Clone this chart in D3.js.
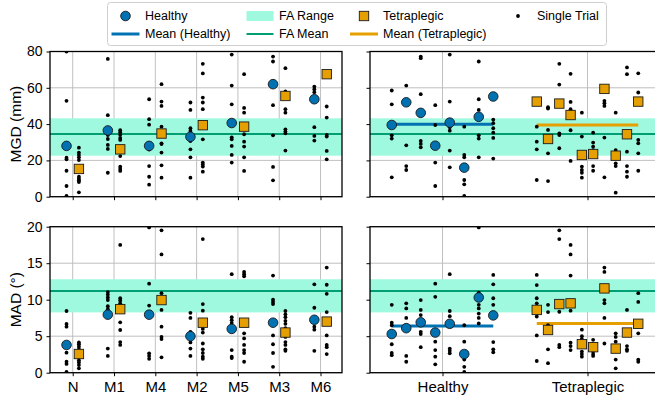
<!DOCTYPE html>
<html>
<head>
<meta charset="utf-8">
<script src="https://cdn.jsdelivr.net/npm/d3@7"></script>
<style>
  html, body { margin: 0; padding: 0; background: #fff; }
  svg { display: block; font-family: "Liberation Sans", Arial, Helvetica, sans-serif; }
</style>
</head>
<body>
<svg id="chart" width="655" height="402"></svg>
<script>
// ---------------- DATA ----------------
const movements = ["N", "M1", "M4", "M2", "M5", "M3", "M6"];
const groups = ["Healthy", "Tetraplegic"];
const mgdTicks = [0, 20, 40, 60, 80];
const madTicks = [0, 5, 10, 15, 20];

// FA reference: [low, mean, high]
const faMGD = [22.6, 34.6, 43.2];
const faMAD = [8.26, 11.2, 12.8];

// Per-movement group means
const mgdHealthyMean = [28.0, 36.5, 28.0, 33.0, 40.6, 62.0, 53.7];
const mgdTetraMean   = [15.3, 26.1, 34.8, 39.4, 38.6, 55.5, 67.5];
const madHealthyMean = [3.8, 7.95, 7.95, 5.0, 6.0, 6.85, 7.25];
const madTetraMean   = [2.56, 8.7, 9.95, 6.85, 6.85, 5.5, 7.0];

// Per-movement single trials
const mgdHealthyTrials = [
  [80, 52.8, 21.5, 20.6, 14.3, 5.9, 0.4, 28],
  [75.9, 44.9, 31.8, 28.5, 26.3, 13.2, 36.5, 34],
  [53.7, 42.7, 39.7, 27, 26, 16.9, 11, 6.6],
  [51.9, 47.8, 37.7, 36.2, 30.7, 26.1, 21.7, 10.5],
  [78.3, 61.2, 50.9, 32.7, 31.6, 28, 23, 18.8],
  [77.2, 74.5, 50.4, 33.8, 16.4, 9],
  [60.7, 59.2, 57.6, 38.3, 33.5, 30.9]
];
const mgdTetraTrials = [
  [27, 24.3, 23, 21.7, 20.2, 11, 9.9, 9, 8.1, 2.4],
  [36.6, 35.5, 34.2, 32.4, 31.3, 27.6, 22.4, 16.5, 15.3, 14.2],
  [62, 52.4, 50, 38.6, 34, 29.4, 29, 24.3, 17.3, 10.5],
  [73.2, 67.9, 54.6, 51.9, 48.2, 31.6, 18.8, 17.7, 16.6, 13.8],
  [67.5, 48.9, 46.3, 34.4, 30.3, 27.6, 21.7, 14.2, 40, 38],
  [70.8, 58, 48.2, 46.3, 37.1, 35.9, 34.9, 25.4],
  [49.7, 43.6, 34, 33.1, 25.2, 20.6]
];
const madHealthyTrials = [
  [8.45, 6.67, 6.3, 2.74, 1.5, 1.2, 0.1, 3.8],
  [11.05, 10.7, 10.3, 9.95, 9.1, 8.7, 3.3, 2.3],
  [19.9, 12.2, 9.2, 2.65, 2.3, 1.9, 8.0],
  [8.2, 7.5, 5.6, 4.15, 3.3, 2.3, 5.0],
  [13.5, 7.6, 7.2, 6.8, 3.1, 2.2, 2.0],
  [13.3, 10.0, 9.7, 9.4, 5.1, 3.9, 2.7, 0.8],
  [12.1, 8.9, 6.3, 5.9, 3.0, 7.3]
];
const madTetraTrials = [
  [4.15, 3.9, 3.56, 3.2, 2.9, 2.2, 1.7, 1.4, 1.05, 0.6],
  [17.5, 10.2, 9.9, 9.5, 9.1, 6.9, 5.85, 4.2, 3.8],
  [19.5, 16.2, 10.9, 8.6, 6.3, 4.9, 4.6, 2.1],
  [18.3, 9.4, 8.5, 6.0, 5.5, 4.0, 3.2, 2.7, 2.2, 1.9],
  [13.8, 13.5, 13.2, 5.4, 4.7, 3.8, 3.1, 2.7, 1.5],
  [8.45, 8.0, 7.6, 7.1, 6.7, 6.1, 4.9, 4.2, 3.8, 3.2, 3.0],
  [14.4, 12.05, 10.8, 8.3, 5.1, 3.8, 3.5, 2.55]
];

// Per-subject means (right panels)
const mgdHealthySubj = [39.5, 52.0, 46.2, 28.1, 40.8, 16.0, 44.0, 55.2];
const mgdTetraSubj   = [52.4, 31.8, 51.3, 45.0, 23.0, 23.5, 59.4, 22.6, 34.4, 52.4];
const madHealthySubj = [5.3, 6.1, 6.9, 5.5, 6.7, 2.56, 10.3, 7.85];
const madTetraSubj   = [8.6, 5.85, 9.4, 9.5, 3.9, 3.5, 11.55, 3.3, 5.5, 6.7];

// Per-subject single trials (right panels)
const mgdHealthySubjTrials = [
  [58.5, 50.9, 33.8, 32, 10.7],
  [61.2, 28.3, 16.9, 14.7],
  [77.2, 76.3, 56.5, 30.7, 29.1, 27.2],
  [50.4, 39.5, 18.8, 5.9],
  [78.3, 52.4, 38.3, 36.4, 25.4, 16.2],
  [38.6, 23, 21.7, 9.2, 6.8, 0.4],
  [74.5, 53.7, 47.8, 33.8, 32, 21.7],
  [42.5, 40.5, 37.7, 35.3, 32.4, 21]
];
const mgdTetraSubjTrials = [
  [38.6, 30.3, 26.1, 9.2],
  [49.3, 48.6, 36.8, 23.9, 8.6],
  [73.2, 61.8, 34.9, 34, 26.7],
  [67.7, 52.2, 48.2, 36.6, 19.7],
  [46.3, 33.1, 16.6, 14.7, 13.2, 10.5],
  [35.3, 29.8, 27.6, 25.7, 16.9, 14.3],
  [52.8, 51.5, 50, 32.6, 10.7],
  [46.3, 25.7, 18.4, 16.9, 2.2],
  [71.2, 67.5, 24.8, 16.9, 13.8, 11],
  [68, 57.4, 31.3, 29.4, 23.9, 14.3]
];
const madHealthySubjTrials = [
  [9.3, 6.85, 6.5, 3.9, 2.7, 2.4],
  [9.5, 8.8, 7.5, 2.3, 1.5],
  [9.95, 8.6, 7.9, 5.6, 5.3, 3.5],
  [12.2, 10.4, 4.25, 3.1, 2.2, 1.15],
  [13.5, 8.45, 7.75, 3.3, 3.0, 2.65],
  [6.5, 4.25, 1.8, 0.8, 0.1],
  [19.9, 10.95, 9.3, 8.8, 8.1, 7.5, 6.75],
  [13.4, 12.1, 10.2, 9.3, 4.2, 3.2, 2.8]
];
const madTetraSubjTrials = [
  [13.4, 12.0, 10.2, 9.5, 7.7, 5.1, 1.6],
  [9.3, 8.3, 6.5, 3.2, 1.3],
  [19.5, 18.3, 8.35, 3.8, 3.5],
  [17.5, 16.2, 13.3, 8.5, 4.1, 3.65, 3.1],
  [5.9, 5.0, 4.6, 2.9, 2.55, 2.2],
  [4.5, 2.9, 2.55, 2.3],
  [14.4, 13.8, 9.95, 9.5, 7.5, 4.0],
  [5.4, 4.9, 4.25, 1.8, 0.6],
  [8.6, 3.65, 3.2, 3.0],
  [10.9, 9.7, 5.4, 1.8, 1.5]
];

// Group means across subjects (right panels)
const mgdGroupMean = [39.9, 39.5];
const madGroupMean = [6.4, 6.75];

// ---------------- STYLE ----------------
const C = {
  healthy: "#0072B2",
  tetra: "#E69F00",
  faMean: "#009E73",
  faBand: "#9ff9df",
  grid: "#b9b9b9",
  dot: "#000"
};

const svg = d3.select("#chart");

const leftX = d3.scaleLinear().domain([-0.55, 6.52]).range([50, 342]);
const rightX = d3.scaleLinear().domain([-0.5, 1.5]).range([370, 660]);
const yMGD = d3.scaleLinear().domain([0, 80]).range([196.7, 51.5]);
const yMAD = d3.scaleLinear().domain([0, 20]).range([372.7, 226.7]);

const hOffL = -0.15, tOffL = 0.15;
const hOffR = d3.range(8).map(i => -0.35 + i * 0.1);
const tOffR = d3.range(10).map(i => -0.35 + i * 0.7 / 9);

function panel(opts) {
  const { x, y, yTicks, xTickVals, xTickLabels, showYLabels, yLabel, showXLabels, id } = opts;
  const [x0, x1] = x.range();
  const [y0, y1] = [y.range()[1], y.range()[0]];
  const g = svg.append("g");

  g.append("clipPath").attr("id", id).append("rect")
    .attr("x", x0).attr("y", y0).attr("width", x1 - x0).attr("height", y1 - y0);

  // grid
  g.append("g").selectAll("line").data(yTicks).join("line")
    .attr("x1", x0).attr("x2", x1).attr("y1", d => y(d)).attr("y2", d => y(d))
    .attr("stroke", C.grid).attr("stroke-width", 0.9);
  g.append("g").selectAll("line").data(xTickVals).join("line")
    .attr("x1", d => x(d)).attr("x2", d => x(d)).attr("y1", y0).attr("y2", y1)
    .attr("stroke", C.grid).attr("stroke-width", 0.9);

  const plot = g.append("g").attr("clip-path", `url(#${id})`);

  // axes
  const yAxis = d3.axisLeft(y).tickValues(yTicks).tickSize(3.5).tickPadding(4)
    .tickFormat(showYLabels ? d3.format("d") : () => "");
  const ya = g.append("g").attr("transform", `translate(${x0},0)`).call(yAxis);
  ya.select(".domain").remove();
  ya.selectAll("text").attr("font-size", 14).attr("fill", "#000")
    .attr("font-family", "Liberation Sans, Arial, sans-serif");
  ya.selectAll("line").attr("stroke", "#000").attr("stroke-width", 1);

  const xAxis = d3.axisBottom(x).tickValues(xTickVals).tickSize(3.5).tickPadding(5)
    .tickFormat((d, i) => showXLabels ? xTickLabels[i] : "");
  const xa = g.append("g").attr("transform", `translate(0,${y1})`).call(xAxis);
  xa.select(".domain").remove();
  xa.selectAll("text").attr("font-size", 15).attr("fill", "#000")
    .attr("font-family", "Liberation Sans, Arial, sans-serif");
  xa.selectAll("line").attr("stroke", "#000").attr("stroke-width", 1);

  if (yLabel) {
    g.append("text")
      .attr("transform", `translate(15,${(y0 + y1) / 2}) rotate(-90)`)
      .attr("text-anchor", "middle").attr("dominant-baseline", "central")
      .attr("font-size", 15.5).text(yLabel);
  }

  return { g, plot, box: [x0, y0, x1, y1] };
}

function frame(p) {
  const [x0, y0, x1, y1] = p.box;
  p.g.append("rect").attr("x", x0).attr("y", y0).attr("width", x1 - x0).attr("height", y1 - y0)
    .attr("fill", "none").attr("stroke", "#000").attr("stroke-width", 1.3);
}

function faBand(p, x, y, fa) {
  const [x0, , x1] = [x.range()[0], 0, x.range()[1]];
  p.plot.append("rect").attr("x", x0).attr("width", x1 - x0)
    .attr("y", y(fa[2])).attr("height", y(fa[0]) - y(fa[2]))
    .attr("fill", C.faBand);
  p.plot.append("line").attr("x1", x0).attr("x2", x1)
    .attr("y1", y(fa[1])).attr("y2", y(fa[1]))
    .attr("stroke", C.faMean).attr("stroke-width", 2);
}

function dots(p, pts, x, y) {
  p.plot.append("g").selectAll("circle").data(pts).join("circle")
    .attr("cx", d => x(d[0])).attr("cy", d => y(d[1])).attr("r", 1.9).attr("fill", C.dot);
}
function circles(p, pts, x, y) {
  p.plot.append("g").selectAll("circle").data(pts).join("circle")
    .attr("cx", d => x(d[0])).attr("cy", d => y(d[1])).attr("r", 4.8)
    .attr("fill", C.healthy).attr("stroke", "#1b1b1b").attr("stroke-width", 0.9);
}
function squares(p, pts, x, y) {
  const s = 9.4;
  p.plot.append("g").selectAll("rect").data(pts).join("rect")
    .attr("x", d => x(d[0]) - s / 2).attr("y", d => y(d[1]) - s / 2)
    .attr("width", s).attr("height", s)
    .attr("fill", C.tetra).attr("stroke", "#1b1b1b").attr("stroke-width", 0.9);
}
function meanLine(p, x, y, xa, xb, v, color) {
  p.plot.append("line").attr("x1", x(xa)).attr("x2", x(xb))
    .attr("y1", y(v)).attr("y2", y(v))
    .attr("stroke", color).attr("stroke-width", 3);
}

function leftPanel(y, ticks, fa, hT, tT, hM, tM, label, showX, id) {
  const idx = movements.map((m, i) => i);
  const p = panel({ x: leftX, y, yTicks: ticks, xTickVals: idx, xTickLabels: movements,
    showYLabels: true, yLabel: label, showXLabels: showX, id });
  faBand(p, leftX, y, fa);
  const hd = [], td = [];
  hT.forEach((arr, i) => arr.forEach(v => hd.push([i + hOffL, v])));
  tT.forEach((arr, i) => arr.forEach(v => td.push([i + tOffL, v])));
  dots(p, hd, leftX, y);
  dots(p, td, leftX, y);
  circles(p, hM.map((v, i) => [i + hOffL, v]), leftX, y);
  squares(p, tM.map((v, i) => [i + tOffL, v]), leftX, y);
  frame(p);
}

function rightPanel(y, ticks, fa, hT, tT, hM, tM, gm, showX, id) {
  const p = panel({ x: rightX, y, yTicks: ticks, xTickVals: [0, 1], xTickLabels: groups,
    showYLabels: false, yLabel: null, showXLabels: showX, id });
  faBand(p, rightX, y, fa);
  meanLine(p, rightX, y, hOffR[0], hOffR[hOffR.length - 1], gm[0], C.healthy);
  meanLine(p, rightX, y, 1 + tOffR[0], 1 + tOffR[tOffR.length - 1], gm[1], C.tetra);
  const hd = [], td = [];
  hT.forEach((arr, i) => arr.forEach(v => hd.push([hOffR[i], v])));
  tT.forEach((arr, i) => arr.forEach(v => td.push([1 + tOffR[i], v])));
  dots(p, hd, rightX, y);
  dots(p, td, rightX, y);
  circles(p, hM.map((v, i) => [hOffR[i], v]), rightX, y);
  squares(p, tM.map((v, i) => [1 + tOffR[i], v]), rightX, y);
  frame(p);
}

leftPanel(yMGD, mgdTicks, faMGD, mgdHealthyTrials, mgdTetraTrials, mgdHealthyMean, mgdTetraMean, "MGD (mm)", false, "c1");
rightPanel(yMGD, mgdTicks, faMGD, mgdHealthySubjTrials, mgdTetraSubjTrials, mgdHealthySubj, mgdTetraSubj, mgdGroupMean, false, "c2");
leftPanel(yMAD, madTicks, faMAD, madHealthyTrials, madTetraTrials, madHealthyMean, madTetraMean, "MAD (°)", true, "c3");
rightPanel(yMAD, madTicks, faMAD, madHealthySubjTrials, madTetraSubjTrials, madHealthySubj, madTetraSubj, madGroupMean, true, "c4");

// ---------------- LEGEND ----------------
const lg = svg.append("g");
lg.append("rect").attr("x", 107.5).attr("y", 2.5).attr("width", 499).attr("height", 43)
  .attr("rx", 3).attr("fill", "#fff").attr("fill-opacity", 0.9)
  .attr("stroke", "#cfcfcf").attr("stroke-width", 1);
const r1 = 16, r2 = 34;
const fs = 12.5;
function ltext(x, y, t) {
  lg.append("text").attr("x", x).attr("y", y).attr("dominant-baseline", "central")
    .attr("font-size", fs).text(t);
}
// col 1
lg.append("circle").attr("cx", 125.5).attr("cy", r1).attr("r", 4.8)
  .attr("fill", C.healthy).attr("stroke", "#1b1b1b").attr("stroke-width", 0.9);
ltext(145, r1, "Healthy");
lg.append("line").attr("x1", 111.5).attr("x2", 139.5).attr("y1", r2).attr("y2", r2)
  .attr("stroke", C.healthy).attr("stroke-width", 3);
ltext(145, r2, "Mean (Healthy)");
// col 2
lg.append("rect").attr("x", 246.5).attr("y", r1 - 5).attr("width", 27).attr("height", 10).attr("fill", C.faBand);
ltext(279, r1, "FA Range");
lg.append("line").attr("x1", 246.5).attr("x2", 273.5).attr("y1", r2).attr("y2", r2)
  .attr("stroke", C.faMean).attr("stroke-width", 2);
ltext(279, r2, "FA Mean");
// col 3
lg.append("rect").attr("x", 364 - 4.7).attr("y", r1 - 4.7).attr("width", 9.4).attr("height", 9.4)
  .attr("fill", C.tetra).attr("stroke", "#1b1b1b").attr("stroke-width", 0.9);
ltext(383, r1, "Tetraplegic");
lg.append("line").attr("x1", 350).attr("x2", 378).attr("y1", r2).attr("y2", r2)
  .attr("stroke", C.tetra).attr("stroke-width", 3);
ltext(383, r2, "Mean (Tetraplegic)");
// col 4
lg.append("circle").attr("cx", 518).attr("cy", r1).attr("r", 1.9).attr("fill", "#000");
ltext(537, r1, "Single Trial");
</script>
</body>
</html>
